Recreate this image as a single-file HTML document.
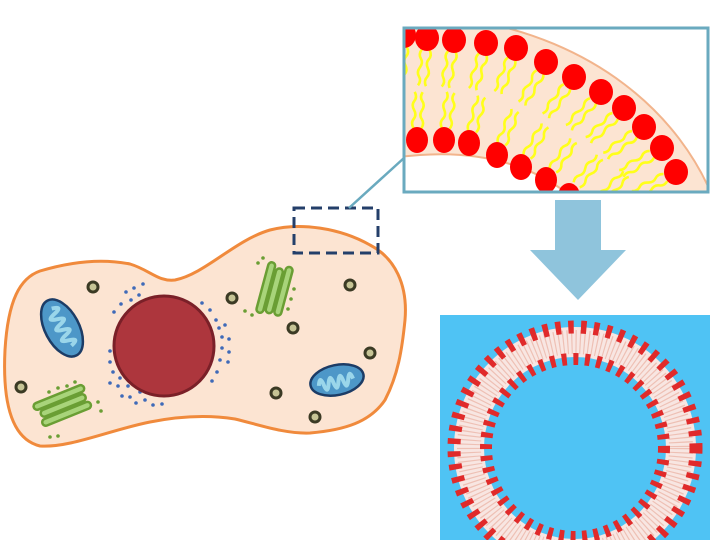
<!DOCTYPE html>
<html><head><style>html,body{margin:0;padding:0;background:#fff;overflow:hidden;width:720px;height:540px}svg{display:block}</style></head>
<body>
<svg width="720" height="540" viewBox="0 0 720 540" xmlns="http://www.w3.org/2000/svg">
<defs>
<clipPath id="zc"><rect x="404" y="28" width="304" height="164"/></clipPath>
<g id="tl"><path d="M12,-4 q5,-3 9,0 t9,0 t9,0 t9,0 M12,4 q5,3 9,0 t9,0 t9,0 t9,0" fill="none" stroke="#ffff1a" stroke-width="2.6"/></g>
</defs>

<path d="M5,350 C8,300 20,278 40,271 C70,262 100,258 130,264 C150,270 158,282 175,280 C205,274 235,240 270,230 C300,222 340,228 370,245 C395,258 408,285 405,320 C402,350 398,375 385,400 C370,422 345,430 310,433 C285,434 260,425 235,419 C210,415 180,416 150,422 C110,430 70,448 40,446 C15,440 2,410 5,350 Z" fill="#fce4d2" stroke="#f08a3c" stroke-width="3"/>

<g fill="#3f6ab8">
<circle cx="126" cy="292" r="1.8"/><circle cx="134" cy="288" r="1.8"/><circle cx="143" cy="284" r="1.8"/><circle cx="139" cy="295" r="1.8"/><circle cx="131" cy="300" r="1.8"/><circle cx="121" cy="304" r="1.8"/><circle cx="114" cy="312" r="1.8"/>
<circle cx="110" cy="351" r="1.8"/><circle cx="110" cy="362" r="1.8"/><circle cx="113" cy="372" r="1.8"/><circle cx="110" cy="383" r="1.8"/><circle cx="118" cy="386" r="1.8"/><circle cx="122" cy="396" r="1.8"/><circle cx="130" cy="397" r="1.8"/><circle cx="136" cy="403" r="1.8"/><circle cx="145" cy="400" r="1.8"/><circle cx="153" cy="405" r="1.8"/><circle cx="162" cy="404" r="1.8"/><circle cx="120" cy="378" r="1.8"/><circle cx="128" cy="386" r="1.8"/><circle cx="140" cy="392" r="1.8"/>
<circle cx="202" cy="303" r="1.8"/><circle cx="210" cy="310" r="1.8"/><circle cx="216" cy="320" r="1.8"/><circle cx="219" cy="328" r="1.8"/><circle cx="225" cy="325" r="1.8"/><circle cx="222" cy="337" r="1.8"/><circle cx="229" cy="339" r="1.8"/><circle cx="222" cy="348" r="1.8"/><circle cx="229" cy="352" r="1.8"/><circle cx="220" cy="360" r="1.8"/><circle cx="228" cy="362" r="1.8"/><circle cx="217" cy="372" r="1.8"/><circle cx="212" cy="381" r="1.8"/>
</g>
<circle cx="164" cy="346" r="50" fill="#ad363d" stroke="#7a2028" stroke-width="3"/>

<g fill="#c6c495" stroke="#3b3a24" stroke-width="3">
<circle cx="93" cy="287" r="5"/><circle cx="232" cy="298" r="5"/><circle cx="350" cy="285" r="5"/><circle cx="293" cy="328" r="5"/><circle cx="370" cy="353" r="5"/><circle cx="21" cy="387" r="5"/><circle cx="276" cy="393" r="5"/><circle cx="315" cy="417" r="5"/>
</g>

<g transform="translate(62,328) rotate(62)">
<ellipse rx="31" ry="17" fill="#4d97c8" stroke="#1c3c66" stroke-width="2.5"/>
<path d="M-22,0 q3,-12 6,0 t6,0 t6,0 t6,0 t6,0 t6,0 t6,0" fill="none" stroke="#9ad6ea" stroke-width="4"/>
</g>
<g transform="translate(337,380) rotate(-12)">
<ellipse rx="27" ry="15" fill="#4d97c8" stroke="#1c3c66" stroke-width="2.5"/>
<path d="M-19,2 q3,-11 5,0 t5,0 t5,0 t5,0 t5,0 t5,0 t5,0" fill="none" stroke="#9ad6ea" stroke-width="4"/>
</g>

<g fill="#a8d47a" stroke="#6a9e34" stroke-width="2.5">
<g transform="translate(275,290) rotate(15)">
<rect x="-13" y="-26" width="7" height="52" rx="3.5"/><rect x="-4" y="-22" width="7" height="46" rx="3.5"/><rect x="5" y="-26" width="7" height="50" rx="3.5"/>
</g>
<g transform="translate(63,405) rotate(-22)">
<rect x="-28" y="-12" width="54" height="7" rx="3.5"/><rect x="-24" y="-3" width="48" height="7" rx="3.5"/><rect x="-26" y="6" width="52" height="7" rx="3.5"/>
</g>
</g>
<g fill="#6a9e34">
<circle cx="263" cy="258" r="1.8"/><circle cx="258" cy="263" r="1.8"/><circle cx="294" cy="289" r="1.8"/><circle cx="291" cy="299" r="1.8"/><circle cx="288" cy="309" r="1.8"/><circle cx="245" cy="311" r="1.8"/><circle cx="252" cy="315" r="1.8"/>
<circle cx="49" cy="392" r="1.8"/><circle cx="58" cy="388" r="1.8"/><circle cx="67" cy="386" r="1.8"/><circle cx="75" cy="382" r="1.8"/><circle cx="98" cy="402" r="1.8"/><circle cx="101" cy="411" r="1.8"/><circle cx="50" cy="437" r="1.8"/><circle cx="58" cy="436" r="1.8"/>
</g>

<rect x="294" y="208" width="84" height="45" fill="none" stroke="#243f6a" stroke-width="3" stroke-dasharray="11,6"/>
<line x1="349" y1="208" x2="404" y2="158" stroke="#6aaabf" stroke-width="2.5"/>

<rect x="404" y="28" width="304" height="164" fill="#fff"/>
<g clip-path="url(#zc)">
<path d="M360,20 L470,20 C590,40 680,110 716,205 L580,205 C545,170 490,150 420,155 L360,160 Z" fill="#fce4d2" stroke="#f2b48c" stroke-width="2"/>
<g>
<use href="#tl" transform="translate(404,35) rotate(95)"/>
<use href="#tl" transform="translate(427,38) rotate(96)"/>
<use href="#tl" transform="translate(454,40) rotate(100)"/>
<use href="#tl" transform="translate(486,43) rotate(106)"/>
<use href="#tl" transform="translate(516,48) rotate(112)"/>
<use href="#tl" transform="translate(546,62) rotate(120)"/>
<use href="#tl" transform="translate(574,77) rotate(126)"/>
<use href="#tl" transform="translate(601,92) rotate(132)"/>
<use href="#tl" transform="translate(624,108) rotate(138)"/>
<use href="#tl" transform="translate(644,127) rotate(143)"/>
<use href="#tl" transform="translate(662,148) rotate(148)"/>
<use href="#tl" transform="translate(676,172) rotate(152)"/>
<use href="#tl" transform="translate(690,196) rotate(156)"/>
<use href="#tl" transform="translate(417,140) rotate(-88)"/>
<use href="#tl" transform="translate(444,140) rotate(-82)"/>
<use href="#tl" transform="translate(469,143) rotate(-75)"/>
<use href="#tl" transform="translate(497,155) rotate(-68)"/>
<use href="#tl" transform="translate(521,167) rotate(-60)"/>
<use href="#tl" transform="translate(546,180) rotate(-55)"/>
<use href="#tl" transform="translate(569,194) rotate(-50)"/>
<use href="#tl" transform="translate(592,208) rotate(-45)"/>
</g>
<g fill="#ff0000">
<ellipse cx="404" cy="35" rx="12" ry="13"/><ellipse cx="427" cy="38" rx="12" ry="13"/><ellipse cx="454" cy="40" rx="12" ry="13"/><ellipse cx="486" cy="43" rx="12" ry="13"/><ellipse cx="516" cy="48" rx="12" ry="13"/><ellipse cx="546" cy="62" rx="12" ry="13"/><ellipse cx="574" cy="77" rx="12" ry="13"/><ellipse cx="601" cy="92" rx="12" ry="13"/><ellipse cx="624" cy="108" rx="12" ry="13"/><ellipse cx="644" cy="127" rx="12" ry="13"/><ellipse cx="662" cy="148" rx="12" ry="13"/><ellipse cx="676" cy="172" rx="12" ry="13"/>
<ellipse cx="417" cy="140" rx="11" ry="13"/><ellipse cx="444" cy="140" rx="11" ry="13"/><ellipse cx="469" cy="143" rx="11" ry="13"/><ellipse cx="497" cy="155" rx="11" ry="13"/><ellipse cx="521" cy="167" rx="11" ry="13"/><ellipse cx="546" cy="180" rx="11" ry="13"/><ellipse cx="569" cy="196" rx="11" ry="13"/>
</g>
</g>
<rect x="404" y="28" width="304" height="164" fill="none" stroke="#6aaabf" stroke-width="3"/>

<polygon points="555,200 601,200 601,250 626,250 578,300 530,250 555,250" fill="#8fc4dc"/>

<svg x="440" y="315" width="270" height="225" viewBox="440 315 270 225" overflow="hidden">
<rect x="440" y="315" width="270" height="225" fill="#4fc3f4"/>
<g transform="translate(575,448)">
<circle r="106" fill="none" stroke="#f8e6e2" stroke-width="30"/>
<circle r="106" fill="none" stroke="#e7a696" stroke-width="24" stroke-dasharray="1.2 3" opacity="0.6"/>
<circle r="121" fill="none" stroke="#e02a2a" stroke-width="13" stroke-dasharray="5.5 7.3"/>
<circle r="89" fill="none" stroke="#e02a2a" stroke-width="12" stroke-dasharray="5 6.6"/>
</g>
</svg>
</svg>
</body></html>
